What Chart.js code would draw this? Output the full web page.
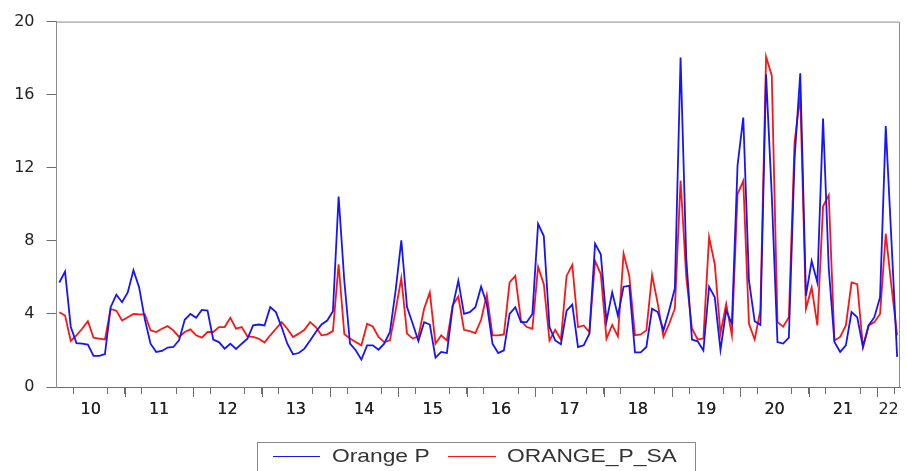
<!DOCTYPE html>
<html>
<head>
<meta charset="utf-8">
<script src="https://cdn.jsdelivr.net/npm/chart.js@4.4.1/dist/chart.umd.min.js"></script>
<style>
  body { margin: 0; background: #fff; }
  #wrap { position: relative; width: 907px; height: 471px; overflow: hidden; }
  #legend {
    position: absolute; left: 257px; top: 442px; width: 439px; height: 34px;
    border: 1px solid #8a8a8a; box-sizing: border-box;
    font-family: "Liberation Sans", Arial, sans-serif; font-size: 19px; color: #333;
  }
  #legend .ln { position: absolute; top: 13px; height: 0; border-top: 1.8px solid; }
  #legend .tx { position: absolute; top: 2px; white-space: nowrap; transform: scaleX(1.2); transform-origin: 0 50%; }
</style>
</head>
<body>
<div id="wrap">
  <canvas id="chart" width="907" height="471"></canvas>
  <div id="legend">
    <div class="ln" style="left:15px;width:47px;border-color:#1414ff"></div>
    <div class="tx" style="left:74px">Orange P</div>
    <div class="ln" style="left:190px;width:48px;border-color:#ff1414"></div>
    <div class="tx" style="left:249px">ORANGE_P_SA</div>
  </div>
</div>
<script>
// monthly series, 2010M01 .. 2022M04
const orangeP = [
	5.72, 6.32, 3.3, 2.4, 2.37, 2.32, 1.7, 1.7, 1.8, 4.37, 5.05, 4.64,
	5.18, 6.39, 5.45, 3.7, 2.37, 1.92, 1.97, 2.16, 2.19, 2.55, 3.68, 4.0,
	3.79, 4.22, 4.18, 2.59, 2.46, 2.1, 2.37, 2.08, 2.37, 2.64, 3.37, 3.42,
	3.37, 4.37, 4.1, 3.28, 2.37, 1.79, 1.86, 2.1, 2.55, 3.01, 3.42, 3.64,
	4.15, 10.43, 5.8, 2.37, 2.01, 1.5, 2.28, 2.28, 2.04, 2.37, 3.01, 5.27,
	8.03, 4.37, 3.46, 2.52, 3.55, 3.42, 1.61, 1.92, 1.86, 4.37, 5.82, 4.0,
	4.1, 4.37, 5.49, 4.55, 2.37, 1.86, 2.01, 4.0, 4.37, 3.55, 3.55, 4.0,
	8.93, 8.26, 3.28, 2.55, 2.34, 4.18, 4.51, 2.19, 2.28, 2.92, 7.84, 7.26,
	3.6, 5.18, 3.91, 5.49, 5.54, 1.9, 1.9, 2.19, 4.28, 4.1, 3.1, 4.2,
	5.4, 18.04, 7.0, 2.6, 2.5, 2.0, 5.49, 4.91, 2.04, 4.19, 3.46, 12.15,
	14.75, 5.82, 3.6, 3.4, 17.1, 10.5, 2.46, 2.38, 2.7, 12.5, 17.17, 5.0,
	6.9, 5.72, 14.7, 6.5, 2.46, 1.92, 2.28, 4.1, 3.82, 2.19, 3.37, 3.82,
	4.91, 14.28, 8.0, 1.65
]

const orangePSA = [
	4.09, 3.91, 2.52, 2.83, 3.19, 3.6, 2.7, 2.65, 2.6, 4.28, 4.18, 3.64,
	3.82, 4.0, 3.97, 3.97, 3.1, 3.01, 3.19, 3.33, 3.1, 2.74, 3.01, 3.15,
	2.83, 2.7, 3.01, 3.01, 3.28, 3.28, 3.79, 3.19, 3.28, 2.77, 2.74, 2.64,
	2.43, 2.83, 3.19, 3.55, 3.19, 2.74, 2.92, 3.13, 3.55, 3.28, 2.83, 2.88,
	3.06, 6.72, 2.9, 2.65, 2.46, 2.28, 3.46, 3.31, 2.74, 2.46, 2.55, 4.18,
	5.96, 2.92, 2.65, 2.77, 4.28, 5.18, 2.37, 2.83, 2.55, 4.46, 4.95, 3.13,
	3.06, 2.95, 3.68, 5.05, 2.83, 2.83, 2.88, 5.72, 6.08, 3.64, 3.28, 3.19,
	6.58, 5.63, 2.55, 3.13, 2.59, 6.08, 6.68, 3.28, 3.37, 3.01, 6.9, 6.18,
	2.64, 3.4, 2.77, 7.3, 6.08, 2.83, 2.88, 3.1, 6.14, 4.55, 2.74, 3.46,
	4.3, 11.3, 6.0, 3.2, 2.6, 2.65, 8.2, 6.72, 2.92, 4.55, 2.83, 10.56,
	11.28, 3.46, 2.6, 4.2, 18.08, 17.05, 3.55, 3.3, 3.82, 13.4, 15.96, 4.28,
	5.45, 3.37, 9.89, 10.5, 2.55, 2.74, 3.37, 5.72, 5.63, 2.19, 3.37, 3.55,
	4.0, 8.39, 5.5, 2.83
]

const yearLabels = ['10', '11', '12', '13', '14', '15', '16', '17', '18', '19', '20', '21', '22']
const yTicks = [0, 4, 8, 12, 16, 20]

const nMonths = orangeP.length

// quarter boundaries get tick marks, year centres get the labels
const quarterTicks = []
for (let q = 3; q < nMonths; q += 3) quarterTicks.push(q - 0.5)

const labelTicks = {}
yearLabels.forEach((lab, k) => {
	const from = k * 12 - 0.5
	const to = Math.min(from + 12, nMonths - 0.5)
	labelTicks[(from + to) / 2] = lab
})

const toPoints = arr => arr.map((v, i) => ({ x: i, y: v }))

const frame = {
	id: 'frame',
	afterDraw(chart) {
		const { ctx, chartArea: a, scales } = chart
		ctx.save()
		ctx.strokeStyle = '#8c8c8c'
		ctx.lineWidth = 1
		ctx.beginPath()
		ctx.moveTo(a.left, a.top + 0.5)
		ctx.lineTo(a.right - 0.5, a.top + 0.5)
		ctx.lineTo(a.right - 0.5, a.bottom)
		ctx.stroke()
		// longer marks at year boundaries
		ctx.strokeStyle = '#6e6e6e'
		quarterTicks.forEach(v => {
			if ((v + 0.5) % 12 !== 0) return
			const x = Math.round(scales.x.getPixelForValue(v)) + 0.5
			ctx.beginPath()
			ctx.moveTo(x, a.bottom)
			ctx.lineTo(x, a.bottom + 10)
			ctx.stroke()
		})
		ctx.restore()
	},
}

new Chart(document.getElementById('chart'), {
	type: 'line',
	data: {
		datasets: [
			{
				label: 'Orange P',
				data: toPoints(orangeP),
				borderColor: '#1414ff',
				borderWidth: 1.8,
				pointRadius: 0,
				tension: 0,
			},
			{
				label: 'ORANGE_P_SA',
				data: toPoints(orangePSA),
				borderColor: '#ff1414',
				borderWidth: 1.8,
				pointRadius: 0,
				tension: 0,
			},
		],
	},
	options: {
		responsive: false,
		animation: false,
		layout: { padding: { left: 0, right: 7, top: 20, bottom: 54 } },
		plugins: { legend: { display: false }, tooltip: { enabled: false } },
		scales: {
			x: {
				type: 'linear',
				min: -0.5,
				max: nMonths - 0.5,
				afterFit: s => { s.height = 30 },
				afterBuildTicks: s => {
					const vals = quarterTicks.concat(Object.keys(labelTicks).map(Number))
					vals.sort((a, b) => a - b)
					s.ticks = vals.map(v => ({ value: v }))
				},
				border: { color: '#6e6e6e', width: 1 },
				grid: {
					drawOnChartArea: false,
					tickLength: 7,
					tickColor: ctx => (labelTicks[ctx.tick.value] !== undefined ? 'rgba(0,0,0,0)' : '#6e6e6e'),
				},
				ticks: {
					autoSkip: false,
					maxRotation: 0,
					padding: 6,
					color: '#222',
					font: { family: 'DejaVu Sans', size: 16 },
					callback: v => labelTicks[v] ?? '',
				},
			},
			y: {
				min: 0,
				max: 20,
				afterFit: s => { s.width = 56.5 },
				afterBuildTicks: s => { s.ticks = yTicks.map(v => ({ value: v })) },
				border: { color: '#8c8c8c', width: 1 },
				grid: { drawOnChartArea: false, tickLength: 10, tickColor: '#6e6e6e' },
				ticks: {
					padding: 12,
					color: '#222',
					font: { family: 'DejaVu Sans', size: 16 },
				},
			},
		},
	},
	plugins: [frame],
})
</script>
</body>
</html>
